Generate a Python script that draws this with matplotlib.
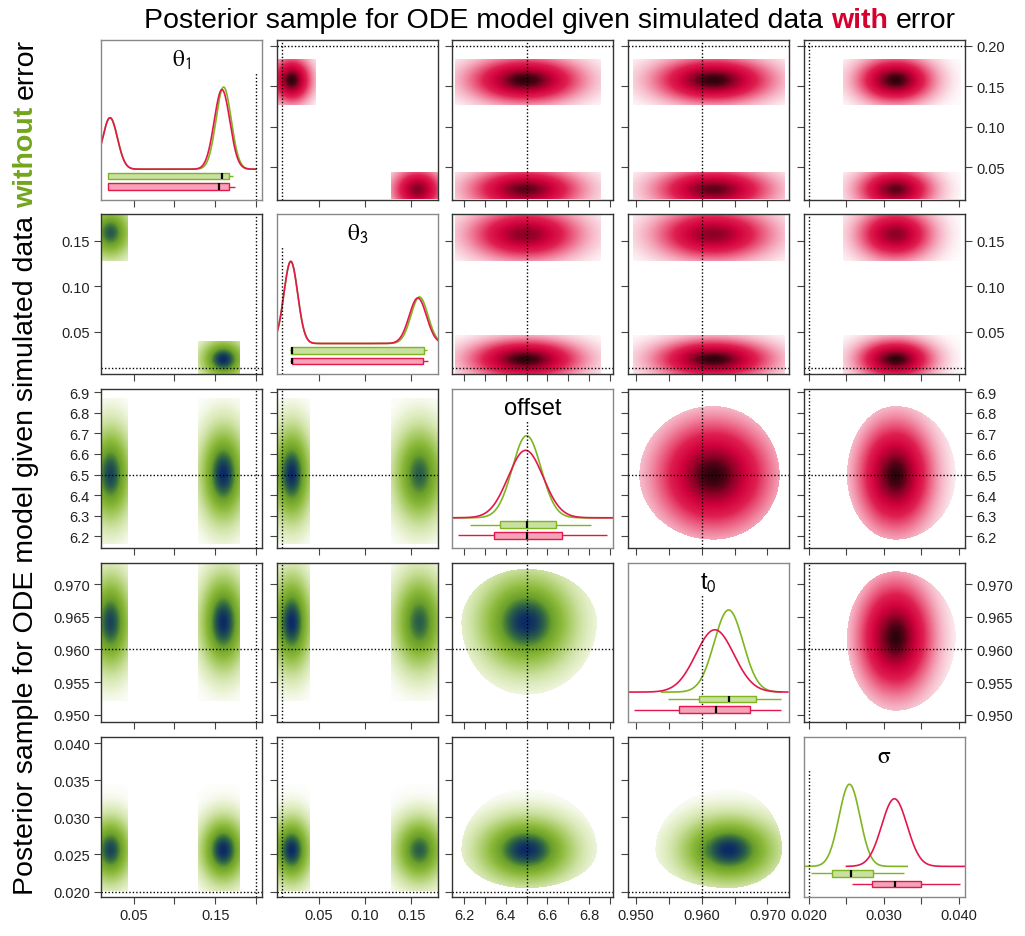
import numpy as np
import matplotlib.pyplot as plt
from matplotlib.colors import LinearSegmentedColormap
from matplotlib.patches import Rectangle

plt.rcParams['font.family'] = ['Liberation Sans', 'DejaVu Sans']
plt.rcParams['mathtext.fontset'] = 'stix'

# parameters: theta1, theta3, offset, t0, sigma
labels = [r'$\mathrm{\theta}_{\mathsf{1}}$', r'$\mathrm{\theta}_{\mathsf{3}}$', 'offset',
          r't$_{\mathsf{0}}$', r'$\mathrm{\sigma}$']
true_vals = [0.20, 0.01, 6.5, 0.96, 0.02]
lims = [(0.0098, 0.2074), (0.0039, 0.1788), (6.143, 6.917),
        (0.9488, 0.9733), (0.0193, 0.0408)]
ticks = [[0.05, 0.10, 0.15, 0.20],
         [0.05, 0.10, 0.15],
         [6.2, 6.3, 6.4, 6.5, 6.6, 6.7, 6.8, 6.9],
         [0.950, 0.955, 0.960, 0.965, 0.970],
         [0.020, 0.025, 0.030, 0.035, 0.040]]
tick_fmt = ['%.2f', '%.2f', '%.1f', '%.3f', '%.3f']
bottom_labels = [[0.05, 0.15], [0.05, 0.10, 0.15], [6.2, 6.4, 6.6, 6.8],
                 [0.950, 0.960, 0.970], [0.020, 0.030, 0.040]]

# diagonal: marginal densities as (weight, mean, sd) components
dens_green = [[(0.38, 0.0209, 0.0091), (0.62, 0.1603, 0.0093)],
              [(0.59, 0.0192, 0.0075), (0.41, 0.1590, 0.0092)],
              [(1.0, 6.500, 0.069)],
              [(1.0, 0.9641, 0.0022)],
              [(1.0, 0.0254, 0.0014)]]
dens_red = [[(0.38, 0.0209, 0.0091), (0.62, 0.1583, 0.0096)],
            [(0.59, 0.0192, 0.0075), (0.41, 0.1572, 0.0094)],
            [(1.0, 6.495, 0.084)],
            [(1.0, 0.9620, 0.0029)],
            [(1.0, 0.0314, 0.0017)]]
span_green = [(0.0098, 0.200), (0.0039, 0.1788), (6.143, 6.917),
              (0.9539, 0.9721), (0.0193, 0.0331)]
span_red = [(0.0098, 0.200), (0.0039, 0.1788), (6.143, 6.917),
            (0.9488, 0.9731), (0.0250, 0.0408)]
# boxes: whisker low, 2.5%, median, 97.5%, whisker high
box_green = [(0.0182, 0.0182, 0.1578, 0.1664, 0.1720),
             (0.0181, 0.0197, 0.0200, 0.1640, 0.1677),
             (6.227, 6.370, 6.502, 6.640, 6.807),
             (0.9548, 0.9596, 0.9641, 0.9683, 0.9721),
             (0.0202, 0.0230, 0.0256, 0.0285, 0.0327)]
box_red = [(0.0182, 0.0182, 0.1545, 0.1664, 0.1747),
           (0.0180, 0.0200, 0.0200, 0.1630, 0.1680),
           (6.171, 6.341, 6.502, 6.669, 6.886),
           (0.9497, 0.9565, 0.9621, 0.9674, 0.9721),
           (0.0257, 0.0284, 0.0315, 0.0350, 0.0401)]

# off-diagonal clouds, (mean, sd, low edge, high edge) per parameter
# mode A = theta1 low / theta3 high, mode B = theta1 high / theta3 low
cloud_w_green = [0.42, 0.58]
cloud_green_A = [(0.0210, 0.0085, 0.000, 0.043), (0.1590, 0.0090, 0.128, 0.190),
                 (6.500, 0.072, 6.16, 6.87), (0.9641, 0.0023, 0.9520, 0.9730),
                 (0.0256, 0.0014, 0.0200, 0.0345)]
cloud_green_B = [(0.1600, 0.0090, 0.129, 0.181), (0.0195, 0.0070, 0.000, 0.040),
                 (6.500, 0.072, 6.16, 6.87), (0.9641, 0.0023, 0.9520, 0.9730),
                 (0.0256, 0.0014, 0.0200, 0.0345)]
cloud_w_red = [0.42, 0.58]
cloud_red_A = [(0.0210, 0.0085, 0.000, 0.043), (0.1570, 0.0090, 0.128, 0.190),
               (6.495, 0.085, 6.155, 6.86), (0.9618, 0.0028, 0.9495, 0.9728),
               (0.0315, 0.0016, 0.0245, 0.0403)]
cloud_red_B = [(0.1570, 0.0090, 0.126, 0.183), (0.0195, 0.0070, 0.000, 0.046),
               (6.495, 0.085, 6.155, 6.86), (0.9618, 0.0028, 0.9495, 0.9728),
               (0.0315, 0.0016, 0.0245, 0.0403)]
round_cut = [False, False, True, True, True]

GREEN = '#7FB51F'
RED = '#E3174C'
green_cmap = LinearSegmentedColormap.from_list(
    'green_cloud', [(0, 'white'), (0.08, '#E6F0CC'), (0.3, '#B3D277'),
                    (0.5, '#8CB93A'), (0.7, '#6A9F2A'), (0.85, '#2E6444'),
                    (1.0, '#0B2A66')])
red_cmap = LinearSegmentedColormap.from_list(
    'red_cloud', [(0, 'white'), (0.08, '#F9D3DD'), (0.3, '#EE6F8E'),
                  (0.5, '#DF1F50'), (0.7, '#D0003C'), (0.87, '#8C0026'),
                  (1.0, '#2E040C')])

W, H = 1025, 937
fig = plt.figure(figsize=(W / 100, H / 100), dpi=100)


def panel(i, j):
    left = 101 + 175.7 * j
    top = 41 + 174.3 * i
    return fig.add_axes([left / W, 1 - (top + 159.5) / H, 161 / W, 159.5 / H])


def mixture(x, comps):
    return sum(w * np.exp(-0.5 * ((x - m) / s) ** 2) / s for w, m, s in comps)


def cloud_factor(v, p):
    m, s, lo, hi = p
    g = np.exp(-0.5 * ((v - m) / s) ** 2) / s
    u = np.where(v < m, (m - v) / (m - lo), (v - m) / (hi - m))
    return g, u


def draw_cloud(ax, i, j):
    if i > j:
        weights, modes, cmap = cloud_w_green, (cloud_green_A, cloud_green_B), green_cmap
    else:
        weights, modes, cmap = cloud_w_red, (cloud_red_A, cloud_red_B), red_cmap
    xv = np.linspace(*lims[j], 160)
    yv = np.linspace(*lims[i], 160)
    X, Y = np.meshgrid(xv, yv)
    total = np.zeros_like(X)
    for w, comps in zip(weights, modes):
        gx, ux = cloud_factor(X, comps[j])
        gy, uy = cloud_factor(Y, comps[i])
        if round_cut[i] and round_cut[j]:
            inside = ux ** 2 + uy ** 2 <= 0.85
        else:
            inside = (ux <= 1) & (uy <= 1)
        total += w * gx * gy * inside
    img = (total / total.max()) ** 0.25
    ax.imshow(img, extent=(*lims[j], *lims[i]), origin='lower', aspect='auto',
              cmap=cmap, vmin=0, vmax=1, interpolation='nearest')
    ax.axvline(true_vals[j], color='black', ls=(0, (1, 1.5)), lw=1)
    ax.axhline(true_vals[i], color='black', ls=(0, (1, 1.5)), lw=1)


def draw_diag(ax, k):
    xg = np.linspace(*span_green[k], 400)
    xr = np.linspace(*span_red[k], 400)
    dg = mixture(xg, dens_green[k])
    dr = mixture(xr, dens_red[k])
    top = max(dg.max(), dr.max())
    ax.plot(xg, 0.19 + 0.515 * dg / top, color=GREEN, lw=1.2)
    ax.plot(xr, 0.19 + 0.515 * dr / top, color=RED, lw=1.2)
    for box, yc, face, edge in ((box_green[k], 0.147, '#C8E0A0', GREEN),
                                (box_red[k], 0.08, '#F4A3B8', RED)):
        wlo, qlo, med, qhi, whi = box
        ax.hlines(yc, wlo, whi, color=edge, lw=1)
        ax.add_patch(Rectangle((qlo, yc - 0.021), qhi - qlo, 0.042,
                               facecolor=face, edgecolor=edge, lw=1, zorder=3))
        ax.vlines(med, yc - 0.021, yc + 0.021, color='black', lw=1.6, zorder=4)
    ax.vlines(true_vals[k], 0, 0.8, colors='black', linestyles=(0, (1, 1.5)), lw=1)
    ax.text(0.5, 0.88, labels[k], transform=ax.transAxes, ha='center',
            va='center', fontsize=17)


for i in range(5):
    for j in range(5):
        ax = panel(i, j)
        ax.set_xlim(lims[j])
        if i == j:
            ax.set_ylim(0, 1)
            draw_diag(ax, i)
        else:
            ax.set_ylim(lims[i])
            draw_cloud(ax, i, j)
        for sp in ax.spines.values():
            sp.set_color('#888888' if i == j else '#333333')
            sp.set_linewidth(1)
        ax.tick_params(length=5, width=0.8, color='#444444', labelsize=10.5,
                       pad=3, labelcolor='#222222')
        ax.set_xticks(ticks[j])
        xl = []
        for t in ticks[j]:
            shown = i == 4 and any(abs(t - b) < 1e-9 for b in bottom_labels[j])
            xl.append(tick_fmt[j] % t if shown else '')
        ax.set_xticklabels(xl)
        if i == j:
            ax.set_yticks([])
        else:
            ax.set_yticks(ticks[i])
            ax.set_yticklabels([tick_fmt[i] % t for t in ticks[i]])
            if j == 4:
                ax.tick_params(axis='y', left=True, right=True,
                               labelleft=False, labelright=True)
            elif j != 0:
                ax.tick_params(axis='y', labelleft=False)


def colored_text(pieces, cx, cy, rotation=0, size=20.5):
    # pieces laid end to end along the baseline, centred at (cx, cy) in pixels
    renderer = fig.canvas.get_renderer()
    probe1 = fig.text(0, 0, 'x x', fontsize=size)
    probe2 = fig.text(0, 0, 'xx', fontsize=size)
    space = (probe1.get_window_extent(renderer).width
             - probe2.get_window_extent(renderer).width)
    probe1.remove()
    probe2.remove()
    texts, lengths = [], []
    for s, c, w in pieces:
        t = fig.text(0, 0, s, color=c, fontweight=w, fontsize=size,
                     rotation=rotation, rotation_mode='anchor',
                     ha='left', va='baseline')
        ext = t.get_window_extent(renderer)
        texts.append(t)
        lengths.append(ext.height if rotation else ext.width)
    total = sum(lengths) + space * (len(pieces) - 1)
    pos = -total / 2
    for t, n in zip(texts, lengths):
        if rotation:
            t.set_position((cx / W, (cy + pos) / H))
        else:
            t.set_position(((cx + pos) / W, cy / H))
        pos += n + space


fig.canvas.draw()
colored_text([('Posterior sample for ODE model given simulated data', 'black', 'normal'),
              ('with', '#D6002E', 'bold'), ('error', 'black', 'normal')],
             550, H - 28)
colored_text([('Posterior sample for ODE model given simulated data', 'black', 'normal'),
              ('without', '#72A51C', 'bold'), ('error', 'black', 'normal')],
             33, H - 467, rotation=90)

fig.savefig('out.png', dpi=100)
